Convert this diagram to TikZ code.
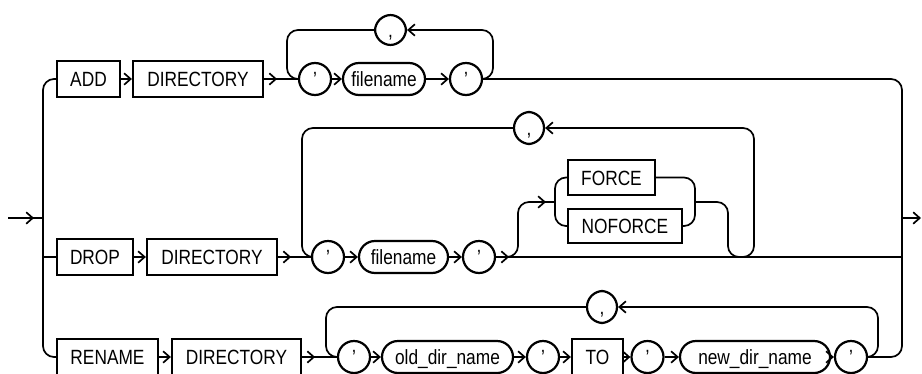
\documentclass[tikz,border=0pt]{standalone}
\usepackage{fontspec}
\setmainfont[FakeStretch=0.84]{Liberation Sans}
\usetikzlibrary{arrows.meta,decorations.markings}
\begin{document}
\begin{tikzpicture}[x=1pt,y=-1pt,
  >={Straight Barb[length=6.5pt,width=11.5pt]},
  kw/.style={draw, line width=2.2pt, minimum height=36pt, inner sep=0pt,
    text height=15pt, text depth=0pt, font=\fontsize{20.6}{24}\selectfont},
  ov/.style={draw, line width=2.2pt, rounded corners=16pt, minimum height=32pt,
    minimum width=32pt, inner sep=0pt, text height=15pt, text depth=0pt,
    font=\fontsize{20.6}{24}\selectfont},
  ln/.style={line width=1.7pt, rounded corners=11pt},
  tipat/.style={postaction={decorate}, decoration={markings,
    mark=at position #1 with {\arrow{>}}}}
]
\useasboundingbox (0,0) rectangle (922,373);

% ---------- ADD row ----------
\node[kw, minimum width=63pt] (add) at (88.5,79) {ADD};
\node[kw, minimum width=130pt] (dir1) at (198,79) {DIRECTORY};
\node[ov] (q1a) at (315,79) {'};
\node[ov, minimum width=82pt] (fn1) at (384,79) {filename};
\node[ov] (q1b) at (466,79) {'};
\node[ov, minimum width=31pt, minimum height=30pt] (c1) at (390.5,30) {,};

% ---------- DROP row ----------
\node[kw, minimum width=76pt] (drop) at (95,257) {DROP};
\node[kw, minimum width=130pt] (dir2) at (212,257) {DIRECTORY};
\node[ov] (q2a) at (328,257) {'};
\node[ov, minimum width=89pt] (fn2) at (403.5,257) {filename};
\node[ov] (q2b) at (479,257) {'};
\node[ov, minimum width=30pt] (c2) at (529,128) {,};
\node[kw, minimum width=87pt, minimum height=35pt] (force) at (611.5,177.5) {FORCE};
\node[kw, minimum width=114pt, minimum height=34pt] (noforce) at (625,226) {NOFORCE};

% ---------- RENAME row ----------
\node[kw, minimum width=101pt] (rename) at (107.5,357) {RENAME};
\node[kw, minimum width=129pt] (dir3) at (236.5,357) {DIRECTORY};
\node[ov] (q3a) at (354,357) {'};
\node[ov, minimum width=131pt] (odn) at (447.5,357) {old\_dir\_name};
\node[ov] (q3b) at (543,357) {'};
\node[kw, minimum width=51pt] (to) at (597.5,357) {TO};
\node[ov] (q3c) at (647.5,357) {'};
\node[ov, minimum width=150pt] (ndn) at (755,357) {new\_dir\_name};
\node[ov] (q3d) at (851,357) {'};
\node[ov, minimum width=30pt] (c3) at (602,307) {,};

% ---------- coordinates ----------
\coordinate (in) at (8,218);
\coordinate (Lm) at (43,218);
\coordinate (Ld) at (43,257);
\coordinate (Rm) at (902,218);
\coordinate (Rd) at (902,257);
\coordinate (out) at (921,218);
\coordinate (r1) at (493,55);
\coordinate (l1) at (287,55);
\coordinate (b0) at (507,257);
\coordinate (b1) at (518,230);
\coordinate (fj) at (555,202);
\coordinate (fk) at (695,202);
\coordinate (l2) at (302,200);
\coordinate (r3) at (878,330);
\coordinate (l3) at (326,330);

% ---------- rails ----------
\draw[ln, tipat=26pt] (in) -- (Lm);
\draw[ln] (add.west) -| (Lm) |- (rename.west);
\draw[ln] (Ld) -- (drop.west);
\draw[ln] (q1b.east) -| (Rm) |- (q3d.east);
\draw[ln, ->] (Rm) -- (out);

% ---------- ADD row connectors ----------
\draw[ln, ->] (add) -- (dir1);
\draw[ln, tipat=13pt] (dir1) -- (q1a);
\draw[ln, ->] (q1a) -- (fn1);
\draw[ln, ->] (fn1) -- (q1b);
\draw[ln, ->] (q1b.east) -| (r1) |- (c1.east);
\draw[ln] (c1.west) -| (l1) |- (q1a.west);

% ---------- DROP row connectors ----------
\draw[ln, ->] (drop) -- (dir2);
\draw[ln, tipat=13pt] (dir2) -- (q2a);
\draw[ln, ->] (q2a) -- (fn2);
\draw[ln, ->] (fn2) -- (q2b);
\draw[ln, tipat=13pt] (q2b.east) -- (Rd);
\draw[ln, tipat=-9pt] (b0) -| (b1) |- (fj);
\draw[ln] (force.west) -| (fj) |- (noforce.west);
\draw[ln] (force.east) -| (fk) |- (noforce.east);
\draw[ln, ->] (fk) -- (728,202) -- (728,257) -- (754,257) -- (754,128) -- (c2.east);
\draw[ln] (c2.west) -| (l2) |- (q2a.west);

% ---------- RENAME row connectors ----------
\draw[ln, ->] (rename) -- (dir3);
\draw[ln, tipat=13pt] (dir3) -- (q3a);
\draw[ln, ->] (q3a) -- (odn);
\draw[ln, ->] (odn) -- (q3b);
\draw[ln, ->] (q3b) -- (to);
\draw[ln, ->] (to) -- (q3c);
\draw[ln, ->] (q3c) -- (ndn);
\draw[ln, ->] (ndn) -- (q3d);
\draw[ln, ->] (q3d.east) -| (r3) |- (c3.east);
\draw[ln] (c3.west) -| (l3) |- (q3a.west);
\end{tikzpicture}
\end{document}
